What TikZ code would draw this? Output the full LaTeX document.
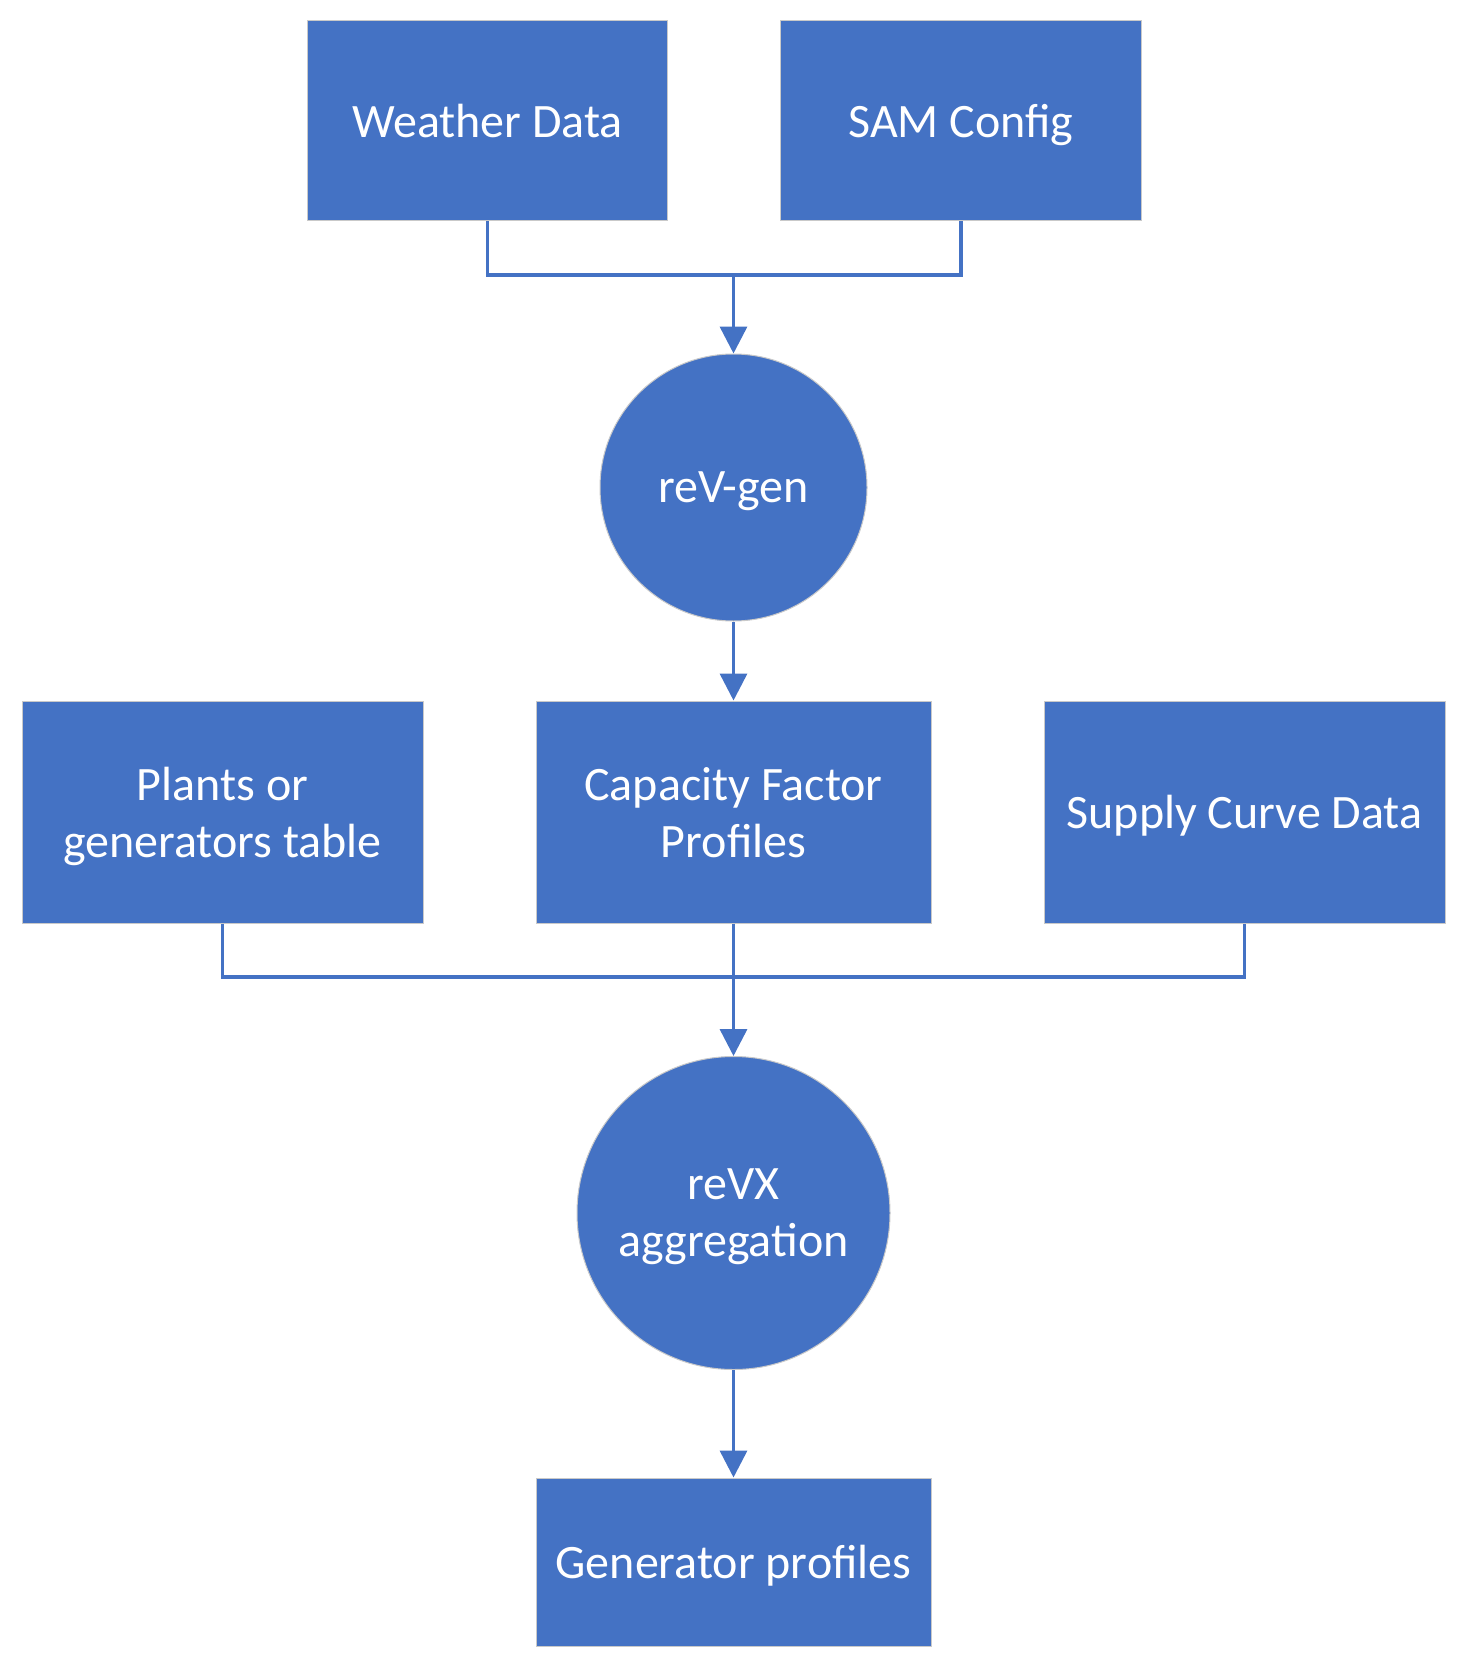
\documentclass[tikz,border=0pt]{standalone}
\usepackage{fontspec}
\setmainfont{Carlito}
\usetikzlibrary{arrows.meta}
\definecolor{officeblue}{HTML}{4472C4}
\definecolor{edgegray}{HTML}{C9C9C9}

\begin{document}
\begin{tikzpicture}[x=0.5pt, y=-0.5pt]

%-------------------------------------------------
% Styles
%-------------------------------------------------
\tikzset{
  databox/.style={rectangle, fill=officeblue, draw=edgegray, line width=0.5pt,
    text=white, align=center, inner sep=0pt, text depth=0pt,
    font=\fontsize{24}{28.5}\selectfont},
  tool_circle/.style={circle, fill=officeblue, draw=edgegray, line width=0.5pt,
    text=white, align=center, inner sep=0pt, text depth=0pt,
    font=\fontsize{24}{28.5}\selectfont},
  link/.style={draw=officeblue, line width=1.75pt},
  flow/.style={link, -{Triangle[length=13.5pt, width=13.5pt]}}
}

% Page frame
\useasboundingbox (0,0) rectangle (1467,1669);

%-------------------------------------------------
% Inputs of reV-gen
%-------------------------------------------------
\node[databox, minimum width=180pt, minimum height=100pt] (wdata) at (487.5,121) {Weather Data};
\node[databox, minimum width=180.5pt, minimum height=100pt] (sam) at (961,121) {SAM Config};

\coordinate (j1) at (733.5,275);

\node[tool_circle, minimum size=133.5pt] (revgen) at (733.5,487.5) {reV-gen};

\draw[link] (wdata.south) |- (j1) -| (sam.south);
\draw[flow] (j1) -- (revgen.north);

%-------------------------------------------------
% Inputs of reVX aggregation
%-------------------------------------------------
\node[databox, minimum width=200.5pt, minimum height=111pt] (plants) at (222.5,812) {Plants or\\generators table};
\node[databox, minimum width=197.5pt, minimum height=111pt] (cfp) at (733.5,812) {Capacity Factor\\Profiles};
\node[databox, minimum width=200.5pt, minimum height=111pt] (supply) at (1244.5,812) {Supply Curve Data};

\draw[flow] (revgen.south) -- (cfp.north);

\coordinate (j2) at (733.5,977);

\node[tool_circle, minimum size=156.5pt] (revx) at (733.5,1213) {reVX\\aggregation};

\draw[link] (plants.south) |- (j2) -| (supply.south);
\draw[flow] (cfp.south) -- (revx.north);

%-------------------------------------------------
% Output
%-------------------------------------------------
\node[databox, minimum width=197.5pt, minimum height=84pt] (genprof) at (733.5,1562) {Generator profiles};

\draw[flow] (revx.south) -- (genprof.north);

\end{tikzpicture}
\end{document}
